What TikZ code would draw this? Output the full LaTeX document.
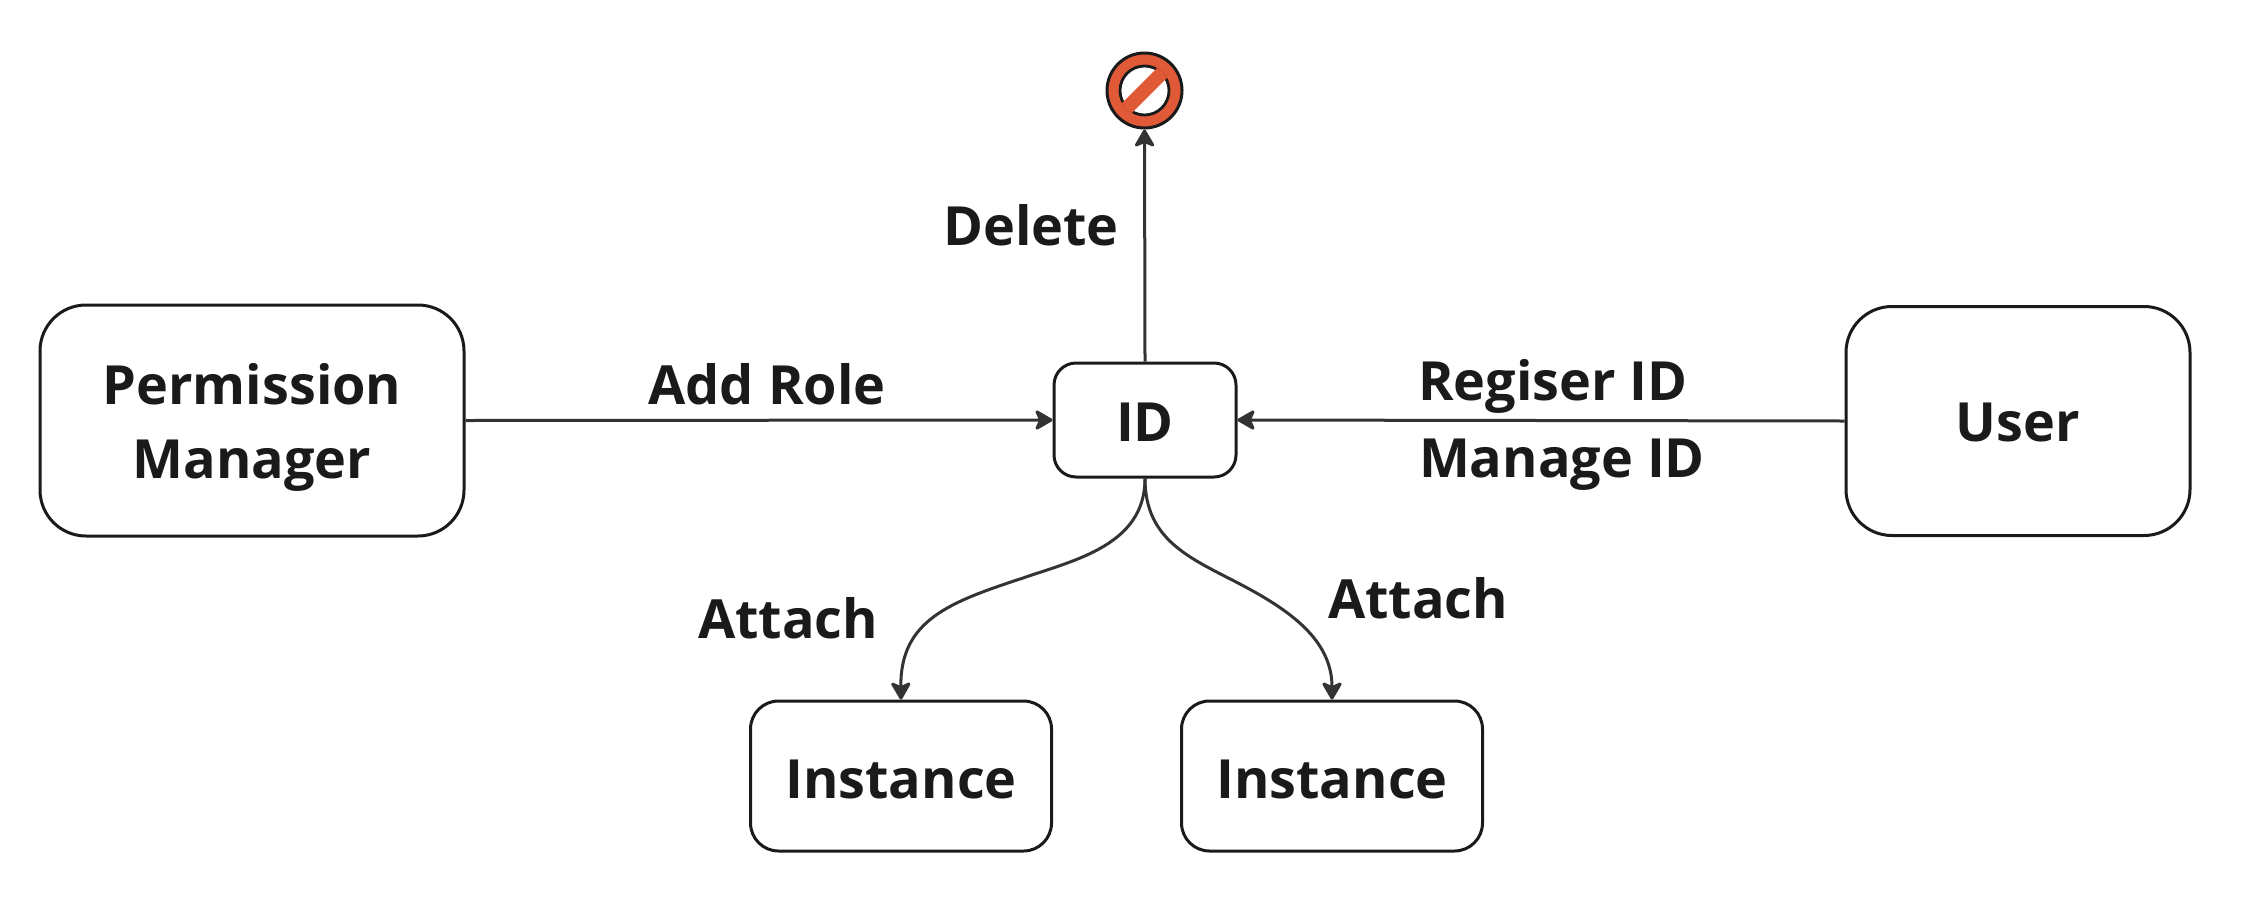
\documentclass[tikz,border=0pt]{standalone}
\usepackage{fontspec}
\setmainfont{Open Sans}
\usetikzlibrary{arrows.meta}
\definecolor{ink}{HTML}{1A1A1A}
\definecolor{wire}{HTML}{333333}
\definecolor{stopred}{HTML}{E15A37}
\tikzset{
 box/.style={draw=ink,line width=3pt,fill=white,inner sep=0pt},
 lbl/.style={font=\fontsize{54}{54}\selectfont\bfseries,text=ink,inner sep=0pt,anchor=base},
 conn/.style={draw=wire,line width=3pt,-{Stealth[length=20pt,width=23pt,inset=5pt,round]}},
}
\begin{document}
\begin{tikzpicture}[x=1pt,y=-1pt]
\useasboundingbox (0,0) rectangle (2258,916);
\node[box,rounded corners=46pt,minimum width=424pt,minimum height=231pt] (pm) at (252,420.5) {};
\node[lbl] (pmA) at (252,404) {Permission};
\node[lbl] (pmB) at (252,478) {Manager};
\node[box,rounded corners=22pt,minimum width=182pt,minimum height=114pt] (id) at (1145,420) {};
\node[lbl] (idt) at (1145,441) {ID};
\node[box,rounded corners=46pt,minimum width=344pt,minimum height=229pt] (user) at (2018,421) {};
\node[lbl] (usert) at (2018,441) {User};
\node[box,rounded corners=28pt,minimum width=301pt,minimum height=150pt] (i1) at (901,776) {};
\node[lbl] (i1t) at (901,798) {Instance};
\node[box,rounded corners=28pt,minimum width=301pt,minimum height=150pt] (i2) at (1332,776) {};
\node[lbl] (i2t) at (1332,798) {Instance};
\node[circle,draw=ink,line width=3pt,fill=stopred,minimum size=75pt,inner sep=0pt] (stop) at (1144.5,90.5) {};
\node[circle,draw=ink,line width=2.8pt,fill=white,minimum size=49pt,inner sep=0pt] (stopin) at (1144.5,90.5) {};
\begin{scope}
\clip (1144.5,90.5) circle (26);
\draw[stopred,line width=14pt] (1120,115) -- (1169,66);
\end{scope}
\draw[conn] (pm.east) -- (id.west);
\draw[conn] (user.west) -- (id.east);
\draw[conn] (id.north) -- (stop.south);
\coordinate (m1) at (1023,578);
\coordinate (m2) at (1238,583);
\draw[conn] (id.south) .. controls (1145,545) and (1075,560) .. (m1) .. controls (950,602) and (900,620) .. (i1.north);
\draw[conn] (id.south) .. controls (1145,540) and (1190,558) .. (m2) .. controls (1290,610) and (1332,640) .. (i2.north);
\node[lbl] (delete) at (1031,245) {Delete};
\node[lbl] (addrole) at (767,404) {Add Role};
\node[lbl] (regid) at (1553,400) {Regiser ID};
\node[lbl] (mngid) at (1562,477) {Manage ID};
\node[lbl] (att1) at (788,638) {Attach};
\node[lbl] (att2) at (1418,618) {Attach};
\end{tikzpicture}
\end{document}
